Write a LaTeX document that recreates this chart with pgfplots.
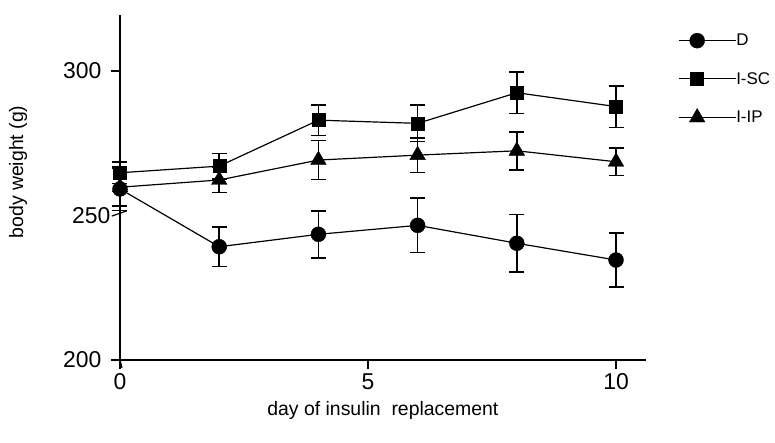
\documentclass[border=0pt]{standalone}
\usepackage{fontspec}
\setmainfont{Liberation Sans}
\usepackage{pgfplots}
\usepackage{pgfplotstable}
\pgfplotsset{compat=1.18}

\pgfplotstableread{
x y e
0 259.2 7.5
2 239.2 6.8
4 243.5 8.1
6 246.6 9.4
8 240.4 10.0
10 234.6 9.3
}\dataD
\pgfplotstableread{
x y e
0 264.8 3.7
2 267.1 4.4
4 283.0 5.3
6 281.9 6.3
8 292.5 7.2
10 287.7 7.2
}\dataSC
\pgfplotstableread{
x y e
0 259.8 6.5
2 262.3 4.3
4 269.2 6.8
6 270.9 6.0
8 272.4 6.6
10 268.6 4.7
}\dataIP

\pgfplotsset{
  myerr/.style={
    error bars/.cd,
      y dir=both, y explicit,
      error bar style={line width=1.7pt, black, solid},
      error mark=|,
      error mark options={black, mark size=7.5bp, line width=1.6pt},
  },
}

\begin{document}
\begin{tikzpicture}
\begin{axis}[
  scale only axis,
  width=525.8bp, height=345bp,
  xmin=0, xmax=10.6, ymin=200, ymax=319.4,
  axis x line*=bottom, axis y line*=left,
  axis line style={line width=1.2pt, -},
  xtick={0,5,10}, ytick={200,300},
  extra y ticks={250},
  extra y tick style={major tick length=0pt},
  tick align=outside,
  major tick length=9bp,
  every tick/.style={black, line width=1.2pt},
  /pgf/number format/assume math mode=true,
  tick label style={font=\fontsize{23}{27}\selectfont},
  yticklabel style={xshift=-6bp},
  xticklabel style={yshift=-1bp},
  xlabel={day of insulin \ replacement},
  ylabel={body weight (g)},
  label style={font=\fontsize{19.5}{23}\selectfont},
  x label style={at={(axis description cs:0.5,-0.145)}, anchor=center},
  y label style={at={(axis description cs:-0.194,0.545)}, anchor=center},
  clip=false,
  legend style={draw=none, fill=none, at={(axis description cs:1.061,0.951)}, anchor=north west,
    inner sep=0pt, row sep=21bp, font=\fontsize{17}{20}\selectfont,
    nodes={inner xsep=0pt}},
  legend cell align=left,
  legend image code/.code={\draw[#1, mark repeat=2, mark phase=2] plot coordinates {(0bp,0bp) (18.5bp,0bp) (37bp,0bp)}; \path (37bp,0bp) -- (57bp,0bp);},
]
\addplot[black, line width=1.2pt, mark=*, mark size=7.5bp, mark options={solid, fill=black, line width=0.4pt}, myerr]
  table[x=x, y=y, y error=e] {\dataD};
\addlegendentry{D}
\addplot[black, line width=1.2pt, mark=square*, mark size=6.5bp, mark options={solid, fill=black, line width=0.4pt}, myerr]
  table[x=x, y=y, y error=e] {\dataSC};
\addlegendentry{I-SC}
\addplot[black, line width=1.2pt, mark=triangle*, mark size=9bp, mark options={solid, fill=black, line width=0.4pt}, myerr]
  table[x=x, y=y, y error=e] {\dataIP};
\addlegendentry{I-IP}
% axis break mark and line extensions
\draw[line width=1.2pt] (axis cs:-0.167,249.8) -- (axis cs:0.135,251.6);
\draw[line width=1.2pt] (axis cs:-0.17,200) -- (axis cs:0,200);
\draw[line width=1.2pt] (axis cs:0,200) -- (axis cs:0.04,197.3);
\end{axis}
\pgfresetboundingbox
\useasboundingbox (-120bp,-83bp) rectangle (655bp,360bp);
\end{tikzpicture}
\end{document}
